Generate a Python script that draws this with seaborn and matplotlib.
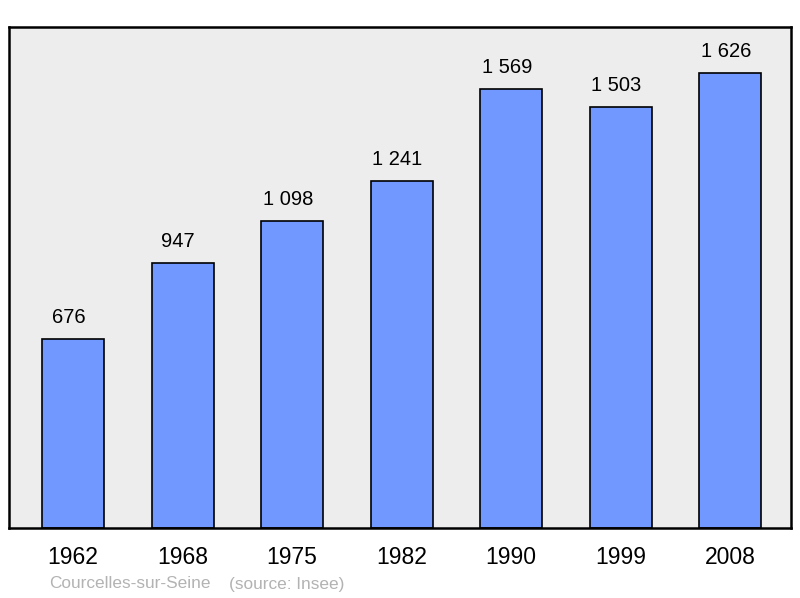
import matplotlib
matplotlib.use("Agg")
import matplotlib.pyplot as plt
import seaborn as sns
import pandas as pd

# datos
annees = ["1962", "1968", "1975", "1982", "1990", "1999", "2008"]
population = [676, 947, 1098, 1241, 1569, 1503, 1626]
commune = "Courcelles-sur-Seine"
source = "(source: Insee)"

df = pd.DataFrame({"annee": annees, "pop": population})

sns.set_theme(style="white")
plt.rcParams["font.family"] = ["Liberation Sans", "DejaVu Sans"]

fig = plt.figure(figsize=(8, 5.98), dpi=100)
ax = fig.add_axes([9 / 800, 1 - 528 / 598, 782 / 800, 501 / 598])
ax.set_facecolor("#ededed")

sns.barplot(data=df, x="annee", y="pop", color="#7098ff", saturation=1,
            width=0.566, edgecolor="black", linewidth=1.2, ax=ax)

for i, v in enumerate(population):
    ax.text(i - 0.04, v + 43, f"{v:,}".replace(",", " "), ha="center", va="bottom",
            fontsize=14.5, color="black")

ax.set_xlim(-0.585, 6.556)
ax.set_ylim(0, 1790)
ax.set_yticks([])
ax.set_xlabel("")
ax.set_ylabel("")
ax.tick_params(axis="x", length=0, labelsize=16.5, pad=13, colors="black")
for s in ax.spines.values():
    s.set_linewidth(1.8)
    s.set_color("black")
    s.set_visible(True)

fig.text(49 / 800, 1 - 584 / 598, commune, fontsize=12.4, color="#b3b3b3",
         va="center", ha="left")
fig.text(229 / 800, 1 - 584 / 598, source, fontsize=12.4, color="#b3b3b3",
         va="center", ha="left")

fig.savefig("out.png", dpi=100)
